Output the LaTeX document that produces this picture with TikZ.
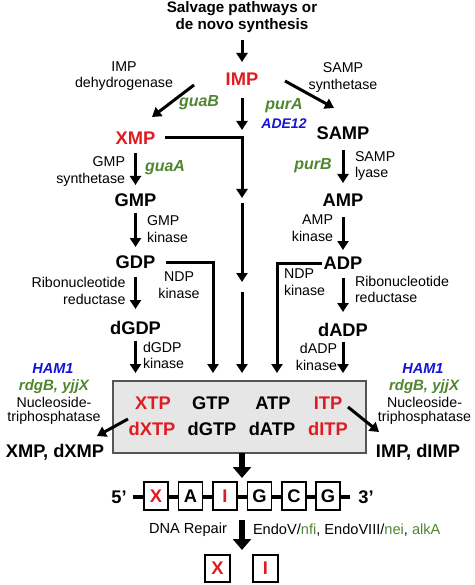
\documentclass[tikz,border=0pt]{standalone}
\usepackage{fontspec}
\setmainfont{Liberation Sans}
\usetikzlibrary{arrows.meta,calc}
\definecolor{xred}{RGB}{222,28,34}
\definecolor{ggreen}{RGB}{80,134,46}
\definecolor{gblue}{RGB}{20,20,210}
\definecolor{boxfill}{RGB}{230,230,230}
\definecolor{boxline}{RGB}{85,85,85}
\begin{document}
\begin{tikzpicture}[x=1pt,y=-1pt,
  every node/.style={inner sep=0pt, outer sep=0pt},
  big/.style={font=\fontsize{18.3}{20}\selectfont\bfseries},
  redbig/.style={big, text=xred},
  enz/.style={font=\fontsize{14.2}{16.5}\selectfont, align=center},
  gene/.style={font=\fontsize{16}{18}\selectfont\bfseries\itshape, text=ggreen},
  bgene/.style={font=\fontsize{14.5}{17}\selectfont\bfseries\itshape, text=gblue},
  arr/.style={line width=3pt, -{Triangle[length=9pt,width=11pt]}},
  fat/.style={line width=6.5pt, -{Triangle[length=11pt,width=18pt]}},
  strand/.style={line width=4.5pt},
  ntbox/.style={draw=black, line width=1.2pt, fill=white, minimum width=24pt, minimum height=28pt, font=\fontsize{18.3}{20}\selectfont\bfseries},
]
\useasboundingbox (0,0) rectangle (474,585);

% central box
\node[draw=boxline, fill=boxfill, line width=1.2pt, minimum width=253pt, minimum height=72pt] (box) at (239.5,417) {};

% top
\node[font=\fontsize{15.2}{17}\selectfont\bfseries, align=center] (src) at (242,17) {Salvage pathways or\\de novo synthesis};
\node[redbig] (IMP) at (242,79) {IMP};
\node[enz] (dehyd) at (124,76) {IMP\\dehydrogenase};
\node[enz] (sampsyn) at (343,77.5) {SAMP\\synthetase};
\node[gene] (guaB) at (199,103) {guaB};
\node[gene] (purA) at (284,106) {purA};
\node[bgene, font=\fontsize{14}{16}\selectfont\bfseries\itshape] (ADE12) at (284,124) {ADE12};

% left column
\node[redbig] (XMP) at (135.5,138) {XMP};
\node[enz, align=right, anchor=east] (gmpsyn) at (125,171.5) {GMP\\synthetase};
\node[gene] (guaA) at (165,168) {guaA};
\node[big] (GMP) at (135.5,200) {GMP};
\node[enz, align=left, anchor=west] (gmpkin) at (147,229) {GMP\\kinase};
\node[big] (GDP) at (135.5,262) {GDP};
\node[enz, text width=96pt, align=right, anchor=east] (rnrL) at (125.5,291) {Ribonucleotide\\reductase};
\node[enz] (ndpL) at (179,285) {NDP\\kinase};
\node[big] (dGDP) at (135.5,328) {dGDP};
\node[enz, align=left, anchor=west] (dgdpkin) at (143,355.5) {dGDP\\kinase};

% right column
\node[big] (SAMP) at (343,133) {SAMP};
\node[enz, align=left, anchor=west] (samplyase) at (355,166) {SAMP\\lyase};
\node[gene] (purB) at (313,166) {purB};
\node[big] (AMP) at (343,200) {AMP};
\node[enz, align=right, anchor=east] (ampkin) at (333,228) {AMP\\kinase};
\node[big] (ADP) at (343,263) {ADP};
\node[enz, align=left, anchor=west] (ndpR) at (284,282) {NDP\\kinase};
\node[enz, align=left, anchor=west] (rnrR) at (355,289.5) {Ribonucleotide\\reductase};
\node[big] (dADP) at (343,330) {dADP};
\node[enz, align=right, anchor=east] (dadpkin) at (337,357) {dADP\\kinase};

% box contents
\node[redbig] (XTP) at (153,403) {XTP};
\node[big] (GTP) at (211,403) {GTP};
\node[big] (ATP) at (273,403) {ATP};
\node[redbig] (ITP) at (328,403) {ITP};
\node[redbig] (dXTP) at (152,429) {dXTP};
\node[big] (dGTP) at (212,429) {dGTP};
\node[big] (dATP) at (272,429) {dATP};
\node[redbig] (dITP) at (328,429) {dITP};

% side labels
\node[bgene] (HAM1L) at (53,369) {HAM1};
\node[gene, font=\fontsize{15}{17}\selectfont\bfseries\itshape] (rdgBL) at (54,387) {rdgB, yjjX};
\node[enz, font=\fontsize{14.2}{14}\selectfont] (nucL) at (54,410.5) {Nucleoside-\\triphosphatase};
\node[bgene] (HAM1R) at (423,369) {HAM1};
\node[gene, font=\fontsize{15}{17}\selectfont\bfseries\itshape] (rdgBR) at (424,387) {rdgB, yjjX};
\node[enz, font=\fontsize{14.2}{14}\selectfont] (nucR) at (424.5,410.5) {Nucleoside-\\triphosphatase};
\node[big] (XMPd) at (55,452) {XMP, dXMP};
\node[big] (IMPd) at (418,452) {IMP, dIMP};

% junction coordinates
\coordinate (jX) at (242,138);
\coordinate (gcol) at (213,0);
\coordinate (acol) at (277,0);

% top arrows
\draw[arr] ($(src)+(0,23)$) -- ($(IMP)+(0,-17)$);
\draw[arr] ($(IMP)+(-48,6)$) -- ($(XMP)+(16.5,-21)$);
\draw[arr] ($(IMP)+(43,2)$) -- ($(SAMP)+(-9,-25)$);
\draw[arr] ($(IMP)+(0,19)$) -- ($(jX)+(0,-8)$);
\draw[arr] ($(XMP.east)+(10,0)$) -| ($(jX)+(0,60)$);
\draw[arr] ($(jX)+(0,65)$) -- ($(jX)+(0,144)$);
\draw[arr] ($(jX)+(0,154)$) -- ($(box.north -| jX)+(0,-8)$);
\draw[arr] ($(GDP.east)+(11,0)$) -| ($(box.north -| gcol)+(0,-8)$);
\draw[arr] ($(ADP.west)+(-2,0)$) -| ($(box.north -| acol)+(0,-8)$);

% left column arrows
\draw[arr] ($(XMP)+(0,15)$) -- ($(GMP)+(0,-15)$);
\draw[arr] ($(GMP)+(0,13)$) -- ($(GDP)+(0,-15)$);
\draw[arr] ($(GDP)+(0,15)$) -- ($(dGDP)+(0,-19)$);
\draw[arr] ($(dGDP)+(0,13)$) -- ($(box.north -| dGDP)+(0,-8)$);

% right column arrows
\draw[arr] ($(SAMP)+(0,17)$) -- ($(AMP)+(0,-17)$);
\draw[arr] ($(AMP)+(0,17)$) -- ($(ADP)+(0,-13)$);
\draw[arr] ($(ADP)+(0,15)$) -- ($(dADP)+(0,-18)$);
\draw[arr] ($(dADP)+(0,12)$) -- ($(box.north -| dADP)+(0,-8)$);

% out of box
\draw[arr] ($(XTP)+(-25,16)$) -- ($(XMPd)+(42,-16)$);
\draw[arr] ($(ITP)+(20,4)$) -- ($(IMPd)+(-39,-20)$);

% DNA strand
\node[big] (p5) at (119,497) {5’};
\node[big] (p3) at (366,497) {3’};
\draw[strand] ($(p5.east)+(6,0)$) -- ($(p3.west)+(-8,0)$);
\node[ntbox, text=xred] (n1) at (156,496) {X};
\node[ntbox] (n2) at (190.5,496) {A};
\node[ntbox, text=xred] (n3) at (225,496) {I};
\node[ntbox] (n4) at (259.5,496) {G};
\node[ntbox] (n5) at (294,496) {C};
\node[ntbox] (n6) at (328,496) {G};

\draw[fat] (box.south -| IMP) -- ($(box.south -| IMP)+(0,25)$);

% repair
\node[font=\fontsize{14.6}{17}\selectfont] (rep) at (188,530) {DNA Repair};
\node[font=\fontsize{14.6}{17}\selectfont, anchor=west] (endo) at (253,530) {EndoV/\textcolor{ggreen}{nfi}, EndoVIII/\textcolor{ggreen}{nei}, \textcolor{ggreen}{alkA}};
\draw[fat] ($(n3.south -| IMP)+(0,10)$) -- ($(n3.south -| IMP)+(0,40)$);
\node[ntbox, text=xred, minimum width=25pt, minimum height=27pt] (r1) at (217.5,568.5) {X};
\node[ntbox, text=xred, minimum width=25pt, minimum height=27pt] (r2) at (265.5,568.5) {I};
\end{tikzpicture}
\end{document}
